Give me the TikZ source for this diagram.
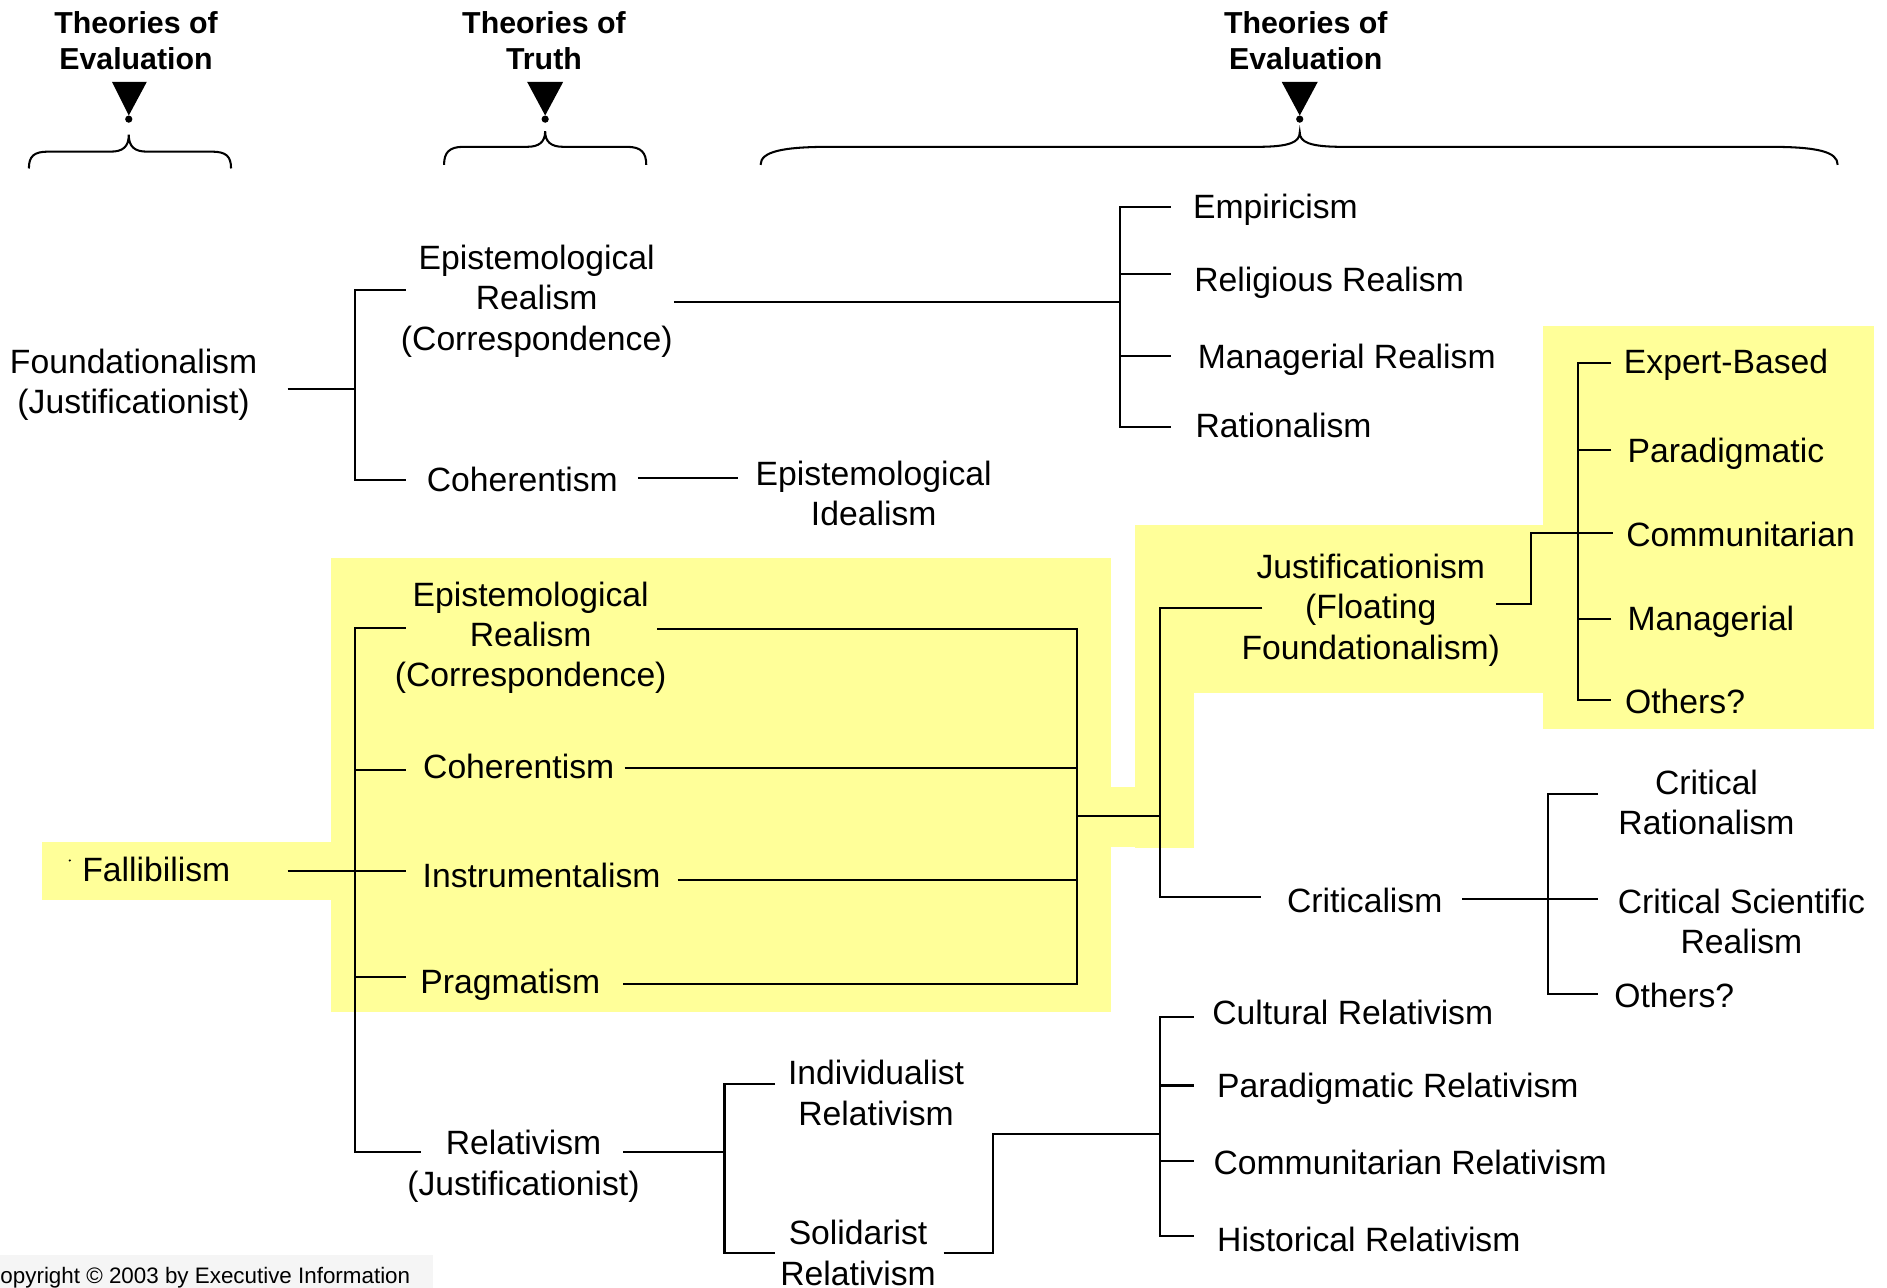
\documentclass[tikz,border=0pt]{standalone}
\usepackage{fontspec}
\setmainfont{Liberation Sans}
\definecolor{hiyel}{RGB}{255,255,153}
\definecolor{copygray}{RGB}{245,245,245}
\tikzset{
  lbl/.style={inner sep=0pt, align=center, font=\fontsize{14}{16.8}\selectfont},
  lbls/.style={lbl, text height=12.2pt, text depth=2pt},
  lblw/.style={lbls, anchor=west},
  hdr/.style={inner sep=0pt, align=center, font=\fontsize{12.6}{15}\selectfont\bfseries},
  conn/.style={line width=0.85pt, line join=miter},
  bracepath/.style={line width=0.85pt},
  pointer/.style={fill=black},
  hibox/.style={fill=hiyel},
}
\begin{document}
\begin{tikzpicture}[x=0.5pt, y=-0.5pt]
\useasboundingbox (0,0) rectangle (1568,1070);
% yellow highlight areas
\fill[hibox] (275,464) rectangle (923,841);
\fill[hibox] (35,700) rectangle (276,748);
\fill[hibox] (922,654) rectangle (992,704);
\fill[hibox] (943,436) rectangle (992,705);
\fill[hibox] (943,436) rectangle (1283,576);
\fill[hibox] (1282,271) rectangle (1557,606);
% copyright box
\fill[copygray] (0,1043) rectangle (360,1070);

% headers
\node[hdr] (h1) at (113,33.5) {Theories of\\Evaluation};
\node[hdr] (h2) at (452,33.5) {Theories of\\Truth};
\node[hdr] (h3) at (1085,33.5) {Theories of\\Evaluation};
\fill[pointer] (93,68) -- (122,68) -- (107,96) -- cycle;
\fill[pointer] (107,99) circle[radius=1.5pt];
\fill[pointer] (438,68) -- (468,68) -- (453,96) -- cycle;
\fill[pointer] (453,99) circle[radius=1.5pt];
\fill[pointer] (1065,68) -- (1095,68) -- (1080,96) -- cycle;
\fill[pointer] (1080,99) circle[radius=1.5pt];
% braces
\draw[bracepath] (24,140) .. controls (24,130) and (28,126) .. (40,126) -- (92,126)
  .. controls (102,126) and (107,122) .. (107,112)
  .. controls (107,122) and (112,126) .. (122,126) -- (176,126)
  .. controls (188,126) and (192,130) .. (192,140);
\draw[bracepath] (369,137) .. controls (369,127) and (373,122) .. (385,122) -- (438,122)
  .. controls (448,122) and (453,118) .. (453,109)
  .. controls (453,118) and (458,122) .. (468,122) -- (521,122)
  .. controls (533,122) and (537,127) .. (537,137);
\draw[bracepath] (632,137) .. controls (632,126) and (650,122) .. (690,122) -- (1045,122)
  .. controls (1072,122) and (1080,118) .. (1080,110)
  .. controls (1080,118) and (1088,122) .. (1115,122) -- (1470,122)
  .. controls (1510,122) and (1527,126) .. (1527,137);

% text nodes
\node[lbl] (found) at (111,319.5) {Foundationalism\\(Justificationist)};
\node[lbl] (erTop) at (446,250) {Epistemological\\Realism\\(Correspondence)};
\node[lbls] (cohTop) at (434,398) {Coherentism};
\node[lbl] (eideal) at (726,410) {Epistemological\\Idealism};
\node[lblw] (emp) at (991,171) {Empiricism};
\node[lblw] (relreal) at (992,232) {Religious Realism};
\node[lblw] (manreal) at (995,296) {Managerial Realism};
\node[lblw] (ratio) at (993,353.5) {Rationalism};
\node[lblw] (fall) at (68,722) {Fallibilism};
\node[lbl] (erLow) at (441,530) {Epistemological\\Realism\\(Correspondence)};
\node[lbls] (cohLow) at (431,637) {Coherentism};
\node[lbls] (instr) at (450,727) {Instrumentalism};
\node[lbls] (prag) at (424,815) {Pragmatism};
\node[lbl] (rel) at (435,969) {Relativism\\(Justificationist)};
\node[lbl] (indiv) at (728,908) {Individualist\\Relativism};
\node[lbl] (solid) at (713,1041) {Solidarist\\Relativism};
\node[lbl] (justif) at (1139,507) {Justificationism\\(Floating\\Foundationalism)};
\node[lblw] (expert) at (1349,300) {Expert-Based};
\node[lblw] (parad) at (1352,374) {Paradigmatic};
\node[lblw] (commun) at (1351,444) {Communitarian};
\node[lblw] (manag) at (1352,514) {Managerial};
\node[lblw] (others1) at (1350,583) {Others?};
\node[lbls] (crit) at (1134,748) {Criticalism};
\node[lbl] (critrat) at (1418,667) {Critical\\Rationalism};
\node[lbl] (critsci) at (1447,765.5) {Critical Scientific\\Realism};
\node[lblw] (others2) at (1341,827) {Others?};
\node[lblw] (cultrel) at (1007,841) {Cultural Relativism};
\node[lblw] (pararel) at (1011,902) {Paradigmatic Relativism};
\node[lblw] (commrel) at (1008,966) {Communitarian Relativism};
\node[lblw] (histrel) at (1011,1030) {Historical Relativism};
\node[inner sep=0pt, anchor=west, font=\fontsize{9.3}{11}\selectfont] (copy) at (0,1062) {opyright © 2003 by Executive Information};
\fill (58,715) circle[radius=0.5pt];

% connector coordinates
\coordinate (fR) at (239,323);
\coordinate (j1) at (295,323);
\coordinate (j1t) at (295,241);
\coordinate (j1b) at (295,399);
\coordinate (erTopL) at (337,241);
\coordinate (cohTopL) at (337,399);
\coordinate (erTopR) at (560,251);
\coordinate (j2) at (931,251);
\coordinate (j2t) at (931,172);
\coordinate (j2b) at (931,355);
\coordinate (empL) at (973,172);
\coordinate (relrealL) at (973,228);
\coordinate (manrealL) at (973,296);
\coordinate (ratioL) at (973,355);
\coordinate (cohTopR) at (530,397);
\coordinate (eidealL) at (613,397);

\coordinate (fallR) at (239,724);
\coordinate (instrL) at (337,724);
\coordinate (j3t) at (295,522);
\coordinate (j3b) at (295,957);
\coordinate (erLowL) at (337,522);
\coordinate (cohLowL) at (337,640);
\coordinate (pragL) at (337,812);
\coordinate (relL) at (350,957);
\coordinate (erLowR) at (546,523);
\coordinate (cohLowR) at (519,638);
\coordinate (instrR) at (563,731);
\coordinate (pragR) at (518,818);
\coordinate (j4t) at (895,523);
\coordinate (j4b) at (895,818);
\coordinate (j4m) at (895,678);
\coordinate (j5t) at (964,505);
\coordinate (j5b) at (964,745);
\coordinate (j5m) at (964,678);
\coordinate (justifL) at (1049,505);
\coordinate (critL) at (1048,745);
\coordinate (justifR) at (1243,502);
\coordinate (j6a) at (1272,502);
\coordinate (j6b) at (1272,443);
\coordinate (communL) at (1340,443);
\coordinate (j7t) at (1311,302);
\coordinate (j7b) at (1311,582);
\coordinate (expertL) at (1339,302);
\coordinate (paradL) at (1339,374);
\coordinate (managL) at (1339,514);
\coordinate (othersL) at (1339,582);
\coordinate (critR) at (1215,747);
\coordinate (j8t) at (1286,660);
\coordinate (j8b) at (1286,826);
\coordinate (critratL) at (1328,660);
\coordinate (critsciL) at (1328,747);
\coordinate (others2L) at (1328,826);
\coordinate (relR) at (518,957);
\coordinate (j9m) at (602,957);
\coordinate (j9t) at (602,901);
\coordinate (j9b) at (602,1041);
\coordinate (indivL) at (644,901);
\coordinate (solidL) at (644,1041);
\coordinate (solidR) at (784,1041);
\coordinate (j10a) at (825,1041);
\coordinate (j10b) at (825,942);
\coordinate (j11m) at (964,942);
\coordinate (j11t) at (964,845);
\coordinate (j11b) at (964,1027);
\coordinate (cultL) at (992,845);
\coordinate (pararelL) at (992,902);
\coordinate (commrelL) at (992,965);
\coordinate (histL) at (992,1027);

% connectors
\draw[conn] (fR) -- (j1);
\draw[conn] (erTopL) -- (j1t) -- (j1b) -- (cohTopL);
\draw[conn] (erTopR) -- (j2);
\draw[conn] (empL) -- (j2t) -- (j2b) -- (ratioL);
\draw[conn] (relrealL) -- (j2 |- relrealL);
\draw[conn] (manrealL) -- (j2 |- manrealL);
\draw[conn] (cohTopR) -- (eidealL);

\draw[conn] (fallR) -- (instrL);
\draw[conn] (erLowL) -- (j3t) -- (j3b) -- (relL);
\draw[conn] (cohLowL) -- (j3t |- cohLowL);
\draw[conn] (pragL) -- (j3t |- pragL);
\draw[conn] (erLowR) -- (j4t) -- (j4b) -- (pragR);
\draw[conn] (cohLowR) -- (j4t |- cohLowR);
\draw[conn] (instrR) -- (j4t |- instrR);
\draw[conn] (j4m) -- (j5m);
\draw[conn] (justifL) -- (j5t) -- (j5b) -- (critL);
\draw[conn] (justifR) -- (j6a) -- (j6b) -- (communL);
\draw[conn] (expertL) -- (j7t) -- (j7b) -- (othersL);
\draw[conn] (paradL) -- (j7t |- paradL);
\draw[conn] (managL) -- (j7t |- managL);
\draw[conn] (critR) -- (critsciL);
\draw[conn] (critratL) -- (j8t) -- (j8b) -- (others2L);
\draw[conn] (relR) -- (j9m);
\draw[conn] (indivL) -- (j9t) -- (j9b) -- (solidL);
\draw[conn] (solidR) -- (j10a) -- (j10b) -- (j11m);
\draw[conn] (cultL) -- (j11t) -- (j11b) -- (histL);
\draw[conn] (pararelL) -- (j11t |- pararelL);
\draw[conn] (commrelL) -- (j11t |- commrelL);
\end{tikzpicture}
\end{document}
